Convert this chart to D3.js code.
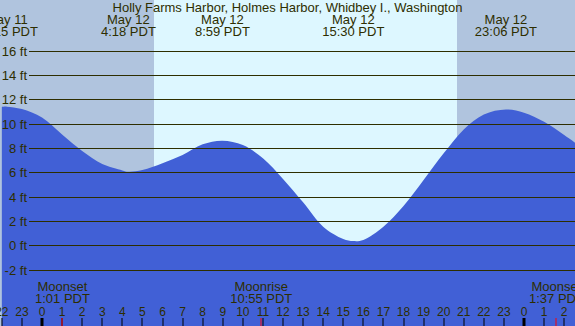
<!DOCTYPE html>
<html>
<head>
<meta charset="utf-8">
<script src="https://cdn.jsdelivr.net/npm/d3@7"></script>
<style>
  body { margin: 0; overflow: hidden; }
  svg { display: block; font-family: 'Liberation Sans', Arial, sans-serif; }
</style>
</head>
<body>
<div id="chart"></div>
<script>
const chartWidth = 575
const chartHeight = 326
const nightColor = '#b0c4de'
const dayColor = '#ddf7ff'
const waterColor = '#4160d6'
const inkColor = '#2e2e00'

const title = 'Holly Farms Harbor, Holmes Harbor, Whidbey I., Washington'

// hours since May 12 00:00 and tide height in ft
const tideHours = [-2, -1.75, -1, 0, 1, 2, 3, 4, 4.3, 5, 6, 7, 8, 8.98, 10, 11, 12, 13, 14, 15, 15.5, 16, 17, 18, 19, 20, 21, 22, 23.1, 24, 25, 26, 27]
const tideFeet = [11.38, 11.4, 11.2, 10.5, 9.1, 7.75, 6.68, 6.16, 6.05, 6.19, 6.74, 7.42, 8.3, 8.6, 8.24, 7.15, 5.45, 3.53, 1.53, 0.52, 0.35, 0.44, 1.53, 3.23, 5.37, 7.56, 9.53, 10.76, 11.17, 10.9, 10.15, 9.06, 7.9]

// high / low labels
const eventHours = [-1.75, 4.3, 8.983, 15.5, 23.1]
const eventDates = ['May 11', 'May 12', 'May 12', 'May 12', 'May 12']
const eventTimes = ['22:15 PDT', '4:18 PDT', '8:59 PDT', '15:30 PDT', '23:06 PDT']

// sunrise / sunset
const sunHours = [5.58, 20.67]

// moon
const moonHours = [1.017, 10.917, 25.617]
const moonNames = ['Moonset', 'Moonrise', 'Moonset']
const moonTimes = ['1:01 PDT', '10:55 PDT', '1:37 PDT']

const feetTicks = [-2, 0, 2, 4, 6, 8, 10, 12, 14, 16]
const hourTicks = d3.range(-2, 27)

const x = d3.scaleLinear().domain([0, 24]).range([42, 524])
const y = d3.scaleLinear().domain([0, 16]).range([245.3, 50.7])

const svg = d3
  .select('#chart')
  .append('svg')
  .attr('width', chartWidth)
  .attr('height', chartHeight)

// 夜 / 日 背景
svg.append('rect')
  .attr('width', chartWidth).attr('height', chartHeight)
  .attr('fill', nightColor)
svg.append('rect')
  .attr('x', Math.round(x(sunHours[0])))
  .attr('width', Math.round(x(sunHours[1])) - Math.round(x(sunHours[0])))
  .attr('height', chartHeight)
  .attr('fill', dayColor)

// 潮位
const tide = tideHours.map((h, i) => [h, tideFeet[i]])
const area = d3.area()
  .x(d => x(d[0]))
  .y0(chartHeight)
  .y1(d => y(d[1]))
  .curve(d3.curveCatmullRom.alpha(0.5))
svg.append('path')
  .datum(tide)
  .attr('d', area)
  .attr('fill', waterColor)

// 格線
const grid = svg.append('g')
grid.selectAll('line')
  .data(feetTicks)
  .enter()
  .append('line')
  .attr('x1', 29).attr('x2', chartWidth)
  .attr('y1', d => Math.round(y(d)) + 0.5)
  .attr('y2', d => Math.round(y(d)) + 0.5)
  .attr('stroke', inkColor)
  .attr('stroke-width', 1)
grid.selectAll('text')
  .data(feetTicks)
  .enter()
  .append('text')
  .attr('x', 27)
  .attr('y', d => Math.round(y(d)) + 5)
  .attr('text-anchor', 'end')
  .style('font-size', '13px')
  .attr('fill', inkColor)
  .text(d => d + ' ft')

// 標題
svg.append('text')
  .attr('x', chartWidth / 2)
  .attr('y', 11.5)
  .attr('text-anchor', 'middle')
  .style('font-size', '13px')
  .attr('fill', inkColor)
  .text(title)

// 高低潮文字
const ev = svg.append('g')
  .selectAll('g')
  .data(eventHours)
  .enter()
  .append('g')
  .attr('transform', d => `translate(${x(d)},0)`)
  .attr('text-anchor', 'middle')
  .attr('fill', inkColor)
  .style('font-size', '13px')
ev.append('text').attr('y', 24).text((d, i) => eventDates[i])
ev.append('text').attr('y', 36).text((d, i) => eventTimes[i])

// 月出月落文字
const moon = svg.append('g')
  .selectAll('g')
  .data(moonHours)
  .enter()
  .append('g')
  .attr('transform', d => `translate(${x(d)},0)`)
  .attr('text-anchor', 'middle')
  .attr('fill', inkColor)
  .style('font-size', '13px')
moon.append('text').attr('y', 291).text((d, i) => moonNames[i])
moon.append('text').attr('y', 303).text((d, i) => moonTimes[i])

// 小時刻度
const hours = svg.append('g')
hours.selectAll('text')
  .data(hourTicks)
  .enter()
  .append('text')
  .attr('x', d => x(d))
  .attr('y', 316)
  .attr('text-anchor', 'middle')
  .style('font-size', '12px')
  .attr('fill', inkColor)
  .text(d => (d + 24) % 24)
hours.selectAll('rect')
  .data(hourTicks)
  .enter()
  .append('rect')
  .attr('x', d => Math.round(x(d)) - (d % 24 === 0 ? 1.5 : 0.5))
  .attr('y', 318)
  .attr('width', d => (d % 24 === 0 ? 3 : 1))
  .attr('height', 8)
  .attr('fill', '#000')
hours.selectAll('.moon')
  .data(moonHours)
  .enter()
  .append('rect')
  .attr('class', 'moon')
  .attr('x', d => Math.round(x(d)) - 0.5)
  .attr('y', 318)
  .attr('width', 1)
  .attr('height', 8)
  .attr('fill', '#f00')
</script>
</body>
</html>
